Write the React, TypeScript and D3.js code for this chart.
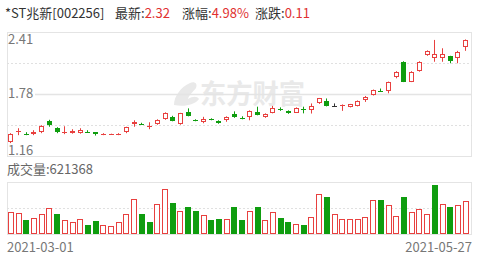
import React from "react";
import * as d3 from "d3";

const opens = [1.30,1.40,1.385,1.377,1.40,1.51,1.44,1.39,1.395,1.395,1.41,1.397,1.38,1.381,1.378,1.40,1.48,1.49,1.46,1.48,1.53,1.556,1.48,1.60,1.525,1.505,1.535,1.516,1.523,1.58,1.545,1.55,1.607,1.55,1.596,1.635,1.614,1.597,1.635,1.624,1.69,1.717,1.668,1.665,1.657,1.667,1.725,1.775,1.828,1.815,1.96,2.11,1.91,2.017,2.178,2.151,2.151,2.168,2.145,2.26];
const closes = [1.38,1.41,1.38,1.405,1.465,1.47,1.40,1.405,1.412,1.42,1.405,1.38,1.382,1.383,1.385,1.45,1.50,1.485,1.465,1.523,1.59,1.516,1.59,1.566,1.52,1.532,1.528,1.49,1.556,1.55,1.54,1.614,1.573,1.583,1.64,1.63,1.59,1.647,1.63,1.664,1.74,1.664,1.668,1.67,1.68,1.714,1.758,1.825,1.82,1.903,2.01,1.91,2.01,2.11,2.22,2.185,2.19,2.118,2.21,2.33];
const highs = [1.39,1.44,1.40,1.42,1.47,1.525,1.45,1.46,1.43,1.44,1.42,1.40,1.39,1.385,1.39,1.455,1.52,1.495,1.50,1.53,1.60,1.565,1.595,1.64,1.53,1.555,1.54,1.52,1.56,1.61,1.56,1.62,1.657,1.59,1.665,1.65,1.62,1.65,1.657,1.69,1.745,1.74,1.69,1.68,1.685,1.72,1.765,1.83,1.84,1.91,2.015,2.115,2.015,2.115,2.225,2.33,2.246,2.17,2.22,2.335];
const lows = [1.29,1.37,1.37,1.37,1.39,1.455,1.39,1.38,1.385,1.385,1.40,1.366,1.37,1.379,1.37,1.39,1.455,1.48,1.43,1.475,1.525,1.51,1.475,1.56,1.51,1.49,1.52,1.485,1.505,1.545,1.53,1.52,1.57,1.545,1.59,1.615,1.585,1.595,1.59,1.588,1.685,1.66,1.655,1.615,1.65,1.66,1.705,1.77,1.81,1.792,1.943,1.905,1.905,2.01,2.17,2.11,2.11,2.095,2.095,2.22];
const volumes = [420000,390000,264000,296000,377000,484000,371000,264000,232000,277000,170000,251000,175000,151000,220000,377000,654000,371000,220000,565000,842000,590000,433000,514000,439000,352000,258000,283000,283000,503000,264000,433000,503000,264000,409000,307000,232000,188000,170000,326000,748000,703000,377000,277000,277000,277000,326000,641000,641000,547000,339000,692000,420000,465000,377000,923000,565000,503000,547000,621368];

const priceTicks = ["2.41", "1.78", "1.16"];
const dateTicks = ["2021-03-01", "2021-05-27"];
const header = { name: "*ST兆新[002256]", last: "2.32", pct: "4.98%", chg: "0.11" };
const volLabel = "成交量:621368";
const watermark = "东方财富";

const RED = "#e8403f";
const GREEN = "#0f9d0f";
const FLAT = "#333333";
const GRID = "#e4e4e4";
const TXT = "#777777";
const FONT = "'Noto Sans CJK SC', 'Noto Sans', sans-serif";

export default function App() {
  const W = 499, H = 261;
  const left = 7, right = 472;
  const mainTop = 32, mainBot = 156;
  const volTop = 182, volBot = 234;
  const idx = d3.range(opens.length);
  const x = d3.scaleBand<number>().domain(idx).range([left, 469.5]).padding(0);
  const y = d3.scaleLinear().domain([1.16, 2.41]).range([mainBot, mainTop]);
  const yv = d3.scaleLinear().domain([0, 980000]).range([volBot, volTop]);
  const center = (i: number) => (x(i) as number) + x.bandwidth() / 2;

  const candles = idx.map((i) => {
    const o = opens[i], c = closes[i];
    const col = c > o ? RED : c < o ? GREEN : FLAT;
    const L = Math.round(center(i) - 2.5);
    const yo = y(o), yc = y(c);
    const top = Math.min(yo, yc), bot = Math.max(yo, yc);
    const wx = L + 2.5;
    const els: any[] = [];
    els.push(<line key="w" x1={wx} x2={wx} y1={y(highs[i])} y2={y(lows[i])} stroke={col} strokeWidth={1} />);
    if (bot - top < 1.5) {
      const yy = Math.round(yc) + 0.5;
      els.push(<line key="b" x1={L} x2={L + 5} y1={yy} y2={yy} stroke={col} strokeWidth={1} />);
    } else if (c > o) {
      const t = Math.round(top) + 0.5, b = Math.round(bot) - 0.5;
      els.push(<rect key="b" x={L + 0.5} y={t} width={4} height={Math.max(1, b - t)} fill="#fff" stroke={col} strokeWidth={1} />);
    } else {
      els.push(<rect key="b" x={L} y={Math.round(top)} width={5} height={Math.max(1, Math.round(bot) - Math.round(top))} fill={col} />);
    }
    return <g key={i}>{els}</g>;
  });

  const bars = idx.map((i) => {
    const prev = i === 0 ? opens[0] : closes[i - 1];
    const up = closes[i] >= prev;
    const L = Math.round(center(i) - 3);
    const t = Math.round(yv(volumes[i]));
    if (up) {
      return <rect key={i} x={L + 0.5} y={t + 0.5} width={5} height={volBot - t - 1} fill="#fff" stroke={RED} strokeWidth={1} />;
    }
    return <rect key={i} x={L} y={t} width={6} height={volBot - t} fill={GREEN} />;
  });

  const yMid = Math.round(y(1.785)) + 0.5;
  const yD1 = Math.round((mainTop + yMid) / 2) + 0.5;
  const yD2 = Math.round((yMid + mainBot) / 2) + 0.5;
  const vMid = Math.round((volTop + volBot) / 2) + 0.5;

  return (
    <svg width={W} height={H} style={{ position: "absolute", left: 0, top: 0, background: "#fff" }} fontFamily={FONT}>
      {/* header */}
      <text x={5} y={18} fontSize={13} fill="#333">{header.name}</text>
      <text x={115} y={18} fontSize={13} fill="#333">最新:<tspan fill="#e03030">{header.last}</tspan></text>
      <text x={182} y={18} fontSize={13} fill="#333">涨幅:<tspan fill="#e03030">{header.pct}</tspan></text>
      <text x={255} y={18} fontSize={13} fill="#333">涨跌:<tspan fill="#e03030">{header.chg}</tspan></text>

      {/* watermark */}
      <g fill="#e9e9e9">
        <path d="M174,105 C174,96 181,87 190,83 C194,81 198,83 196,88 C193,92 189,95 188,99 C193,96 197,96 199,99 C195,105 184,107 174,105 Z" />
        <text x={200} y={104} fontSize={27} fontWeight="bold" textLength={105} lengthAdjust="spacingAndGlyphs">{watermark}</text>
      </g>

      {/* main panel */}
      <rect x={left + 0.5} y={mainTop + 0.5} width={right - left - 1} height={mainBot - mainTop} fill="none" stroke={GRID} />
      <line x1={left} x2={right} y1={yD1} y2={yD1} stroke="#e0e0e0" strokeDasharray="2,2" />
      <line x1={left} x2={right} y1={yMid} y2={yMid} stroke={GRID} strokeWidth={1.5} />
      <line x1={left} x2={right} y1={yD2} y2={yD2} stroke="#e0e0e0" strokeDasharray="2,2" />

      {candles}

      <rect x={8} y={yMid - 6} width={27} height={12} fill="#fff" />
      <text x={8} y={44} fontSize={13} fill={TXT}>{priceTicks[0]}</text>
      <text x={8} y={98} fontSize={13} fill={TXT}>{priceTicks[1]}</text>
      <text x={8} y={155} fontSize={13} fill={TXT}>{priceTicks[2]}</text>

      {/* volume panel */}
      <text x={7} y={174} fontSize={13} fill="#666">{volLabel}</text>
      <rect x={left + 0.5} y={volTop + 0.5} width={right - left - 1} height={volBot - volTop} fill="none" stroke={GRID} />
      <line x1={left} x2={right} y1={vMid} y2={vMid} stroke="#e0e0e0" strokeDasharray="2,2" />
      {bars}

      <text x={7} y={252} fontSize={13} fill={TXT}>{dateTicks[0]}</text>
      <text x={right} y={252} fontSize={13} fill={TXT} textAnchor="end">{dateTicks[1]}</text>
    </svg>
  );
}
